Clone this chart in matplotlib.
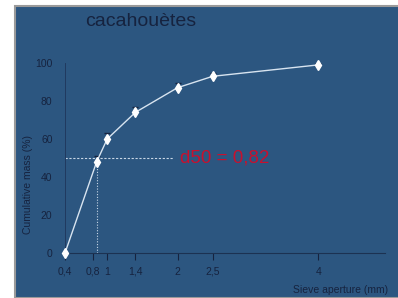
import matplotlib.pyplot as plt
from matplotlib.patches import Rectangle

plt.rcParams['font.family'] = ['Liberation Sans', 'DejaVu Sans']

sieve = [0.4, 0.85, 1.0, 1.4, 2.0, 2.5, 4.0]
cum_mass = [0, 48, 60, 74, 87, 93, 99]
err_up = [0, 3, 3, 3, 2.5, 1.5, 1]
xtick_vals = [0.4, 0.8, 1, 1.4, 2, 2.5, 4]
xtick_labels = ['0,4', '0,8', '1', '1,4', '2', '2,5', '4']
ytick_vals = [0, 20, 40, 60, 80, 100]
d50 = 0.85
d50_text = 'd50 = 0,82'

panel = '#2c5680'
dark = '#16233f'

fig = plt.figure(figsize=(3.98, 2.98), dpi=100, facecolor='white')
fig.patches.append(Rectangle((15 / 398, 0), 1, 1 - 6 / 298, transform=fig.transFigure,
                             facecolor=panel, edgecolor='#9a9a9a', linewidth=1.5, zorder=-1))

ax = fig.add_axes([65 / 398, 1 - 253 / 298, (385 - 65) / 398, (253 - 63) / 298])
ax.set_zorder(2)
ax.set_facecolor('none')

ax.plot(sieve, cum_mass, color='#d8e4f0', linewidth=1.0, zorder=3, clip_on=False)
ax.errorbar(sieve, cum_mass, yerr=[[0] * len(err_up), err_up], fmt='none',
            ecolor=dark, elinewidth=0.7, capsize=2.5, zorder=2)
ax.plot(sieve, cum_mass, linestyle='none', marker='d', markersize=5.5,
        color='white', zorder=4, clip_on=False)

ax.plot([0.4, 1.93], [50, 50], color='#c8d6e6', linewidth=0.8, linestyle=(0, (2, 1.5)), zorder=2)
ax.plot([d50, d50], [0, 50], color='#c8d6e6', linewidth=0.8, linestyle=(0, (1, 1.5)), zorder=2)
ax.text(2.03, 50, d50_text, color='#c8102e', fontsize=13.5, va='center')

ax.set_xlim(0.4, 4.95)
ax.set_ylim(0, 100)
ax.set_xticks(xtick_vals)
ax.set_xticklabels(xtick_labels)
ax.set_yticks(ytick_vals)

for s in ['top', 'right']:
    ax.spines[s].set_visible(False)
ax.spines['left'].set_color('#203a60')
ax.spines['left'].set_linewidth(0.7)
ax.spines['bottom'].set_color('#1c3252')
ax.spines['bottom'].set_linewidth(0.8)
ax.tick_params(colors=dark, labelsize=7.5, length=5, width=0.8, direction='out')
ax.tick_params(axis='y', length=0, pad=9)
ax.tick_params(axis='x', pad=5)

fig.text(28 / 398, 1 - 185 / 298, 'Cumulative mass (%)', rotation=90, color=dark,
         fontsize=7.5, ha='center', va='center')
fig.text(388 / 398, 1 - 290 / 298, 'Sieve aperture (mm)', color=dark,
         fontsize=7.5, ha='right', va='center')
fig.text(85 / 398, 1 - 22 / 298, 'cacahouètes', color=dark, fontsize=14,
         ha='left', va='center')

fig.savefig('out.png', dpi=100, facecolor='white')
